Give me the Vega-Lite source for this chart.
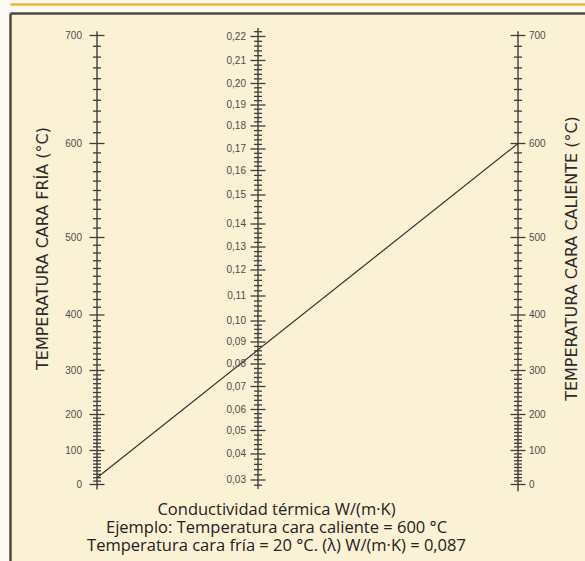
{
  "$schema": "https://vega.github.io/schema/vega-lite/v6.json",
  "width": 575,
  "height": 548,
  "autosize": {"type": "none"},
  "padding": {"left": 10, "top": 13, "right": 0, "bottom": 0},
  "background": "#fcf9f0",
  "config": {
    "view": {"fill": "#fbf1d5", "stroke": null},
    "locale": {"number": {"decimal": ",", "thousands": ".", "grouping": [3], "currency": ["", " €"]}}
  },
  "datasets": {
    "temp": [
      {"t":0,"k":"M"},{"t":10,"k":"m"},{"t":20,"k":"m"},{"t":30,"k":"m"},{"t":40,"k":"m"},{"t":50,"k":"m"},{"t":60,"k":"m"},{"t":70,"k":"m"},{"t":80,"k":"m"},{"t":90,"k":"m"},
      {"t":100,"k":"M"},{"t":110,"k":"m"},{"t":120,"k":"m"},{"t":130,"k":"m"},{"t":140,"k":"m"},{"t":150,"k":"m"},{"t":160,"k":"m"},{"t":170,"k":"m"},{"t":180,"k":"m"},{"t":190,"k":"m"},
      {"t":200,"k":"M"},{"t":210,"k":"m"},{"t":220,"k":"m"},{"t":230,"k":"m"},{"t":240,"k":"m"},{"t":250,"k":"m"},{"t":260,"k":"m"},{"t":270,"k":"m"},{"t":280,"k":"m"},{"t":290,"k":"m"},
      {"t":300,"k":"M"},{"t":310,"k":"m"},{"t":320,"k":"m"},{"t":330,"k":"m"},{"t":340,"k":"m"},{"t":350,"k":"m"},{"t":360,"k":"m"},{"t":370,"k":"m"},{"t":380,"k":"m"},{"t":390,"k":"m"},
      {"t":400,"k":"M"},{"t":410,"k":"m"},{"t":420,"k":"m"},{"t":430,"k":"m"},{"t":440,"k":"m"},{"t":450,"k":"m"},{"t":460,"k":"m"},{"t":470,"k":"m"},{"t":480,"k":"m"},{"t":490,"k":"m"},
      {"t":500,"k":"M"},{"t":510,"k":"m"},{"t":520,"k":"m"},{"t":530,"k":"m"},{"t":540,"k":"m"},{"t":550,"k":"m"},{"t":560,"k":"m"},{"t":570,"k":"m"},{"t":580,"k":"m"},{"t":590,"k":"m"},
      {"t":600,"k":"M"},{"t":610,"k":"m"},{"t":620,"k":"m"},{"t":630,"k":"m"},{"t":640,"k":"m"},{"t":650,"k":"m"},{"t":660,"k":"m"},{"t":670,"k":"m"},{"t":680,"k":"m"},{"t":690,"k":"m"},
      {"t":700,"k":"M"}
    ],
    "cond": [
      {"c":0.028,"k":"m"},
      {"c":0.03,"k":"M"},{"c":0.032,"k":"m"},{"c":0.034,"k":"m"},{"c":0.036,"k":"m"},{"c":0.038,"k":"m"},
      {"c":0.04,"k":"M"},{"c":0.042,"k":"m"},{"c":0.044,"k":"m"},{"c":0.046,"k":"m"},{"c":0.048,"k":"m"},
      {"c":0.05,"k":"M"},{"c":0.052,"k":"m"},{"c":0.054,"k":"m"},{"c":0.056,"k":"m"},{"c":0.058,"k":"m"},
      {"c":0.06,"k":"M"},{"c":0.062,"k":"m"},{"c":0.064,"k":"m"},{"c":0.066,"k":"m"},{"c":0.068,"k":"m"},
      {"c":0.07,"k":"M"},{"c":0.072,"k":"m"},{"c":0.074,"k":"m"},{"c":0.076,"k":"m"},{"c":0.078,"k":"m"},
      {"c":0.08,"k":"M"},{"c":0.082,"k":"m"},{"c":0.084,"k":"m"},{"c":0.086,"k":"m"},{"c":0.088,"k":"m"},
      {"c":0.09,"k":"M"},{"c":0.092,"k":"m"},{"c":0.094,"k":"m"},{"c":0.096,"k":"m"},{"c":0.098,"k":"m"},
      {"c":0.1,"k":"M"},{"c":0.102,"k":"m"},{"c":0.104,"k":"m"},{"c":0.106,"k":"m"},{"c":0.108,"k":"m"},
      {"c":0.11,"k":"M"},{"c":0.112,"k":"m"},{"c":0.114,"k":"m"},{"c":0.116,"k":"m"},{"c":0.118,"k":"m"},
      {"c":0.12,"k":"M"},{"c":0.122,"k":"m"},{"c":0.124,"k":"m"},{"c":0.126,"k":"m"},{"c":0.128,"k":"m"},
      {"c":0.13,"k":"M"},{"c":0.132,"k":"m"},{"c":0.134,"k":"m"},{"c":0.136,"k":"m"},{"c":0.138,"k":"m"},
      {"c":0.14,"k":"M"},{"c":0.142,"k":"m"},{"c":0.144,"k":"m"},{"c":0.146,"k":"m"},{"c":0.148,"k":"m"},
      {"c":0.15,"k":"M"},{"c":0.152,"k":"m"},{"c":0.154,"k":"m"},{"c":0.156,"k":"m"},{"c":0.158,"k":"m"},
      {"c":0.16,"k":"M"},{"c":0.162,"k":"m"},{"c":0.164,"k":"m"},{"c":0.166,"k":"m"},{"c":0.168,"k":"m"},
      {"c":0.17,"k":"M"},{"c":0.172,"k":"m"},{"c":0.174,"k":"m"},{"c":0.176,"k":"m"},{"c":0.178,"k":"m"},
      {"c":0.18,"k":"M"},{"c":0.182,"k":"m"},{"c":0.184,"k":"m"},{"c":0.186,"k":"m"},{"c":0.188,"k":"m"},
      {"c":0.19,"k":"M"},{"c":0.192,"k":"m"},{"c":0.194,"k":"m"},{"c":0.196,"k":"m"},{"c":0.198,"k":"m"},
      {"c":0.2,"k":"M"},{"c":0.202,"k":"m"},{"c":0.204,"k":"m"},{"c":0.206,"k":"m"},{"c":0.208,"k":"m"},
      {"c":0.21,"k":"M"},{"c":0.212,"k":"m"},{"c":0.214,"k":"m"},{"c":0.216,"k":"m"},{"c":0.218,"k":"m"},
      {"c":0.22,"k":"M"},{"c":0.222,"k":"m"}
    ],
    "ejes": [{"e":0,"a":-15,"b":704},{"e":2,"a":-20,"b":704}],
    "ejemplo": [{"e":0,"t":20},{"e":2,"t":600}],
    "ejecond": [{"a":0.0265,"b":0.2235}]
  },
  "resolve": {"scale": {"y": "independent"}, "axis": {"x": "independent", "y": "independent"}},
  "layer": [
    {
      "data": {"name": "temp"},
      "mark": {"type": "tick", "orient": "horizontal", "thickness": 1.3, "color": "#3d3d3d", "opacity": 1},
      "encoding": {
        "x": {"datum": 0, "type": "quantitative", "scale": {"domain": [-0.54037,0,1,2,2.25769], "range": [0,87,248,508,575], "nice": false, "zero": false},
              "axis": {"orient": "top", "domain": true, "domainColor": "#4a4a4a", "domainWidth": 2.5, "ticks": false, "labels": false, "grid": false, "title": null}},
        "y": {"field": "t", "type": "quantitative", "scale": {"domain": [-225,0,100,200,300,400,500,600,700,720.83], "range": [548,471.5,437.5,401.5,357.5,302,224.5,130.5,22.5,0], "nice": false, "zero": false},
              "axis": {"orient": "left", "domain": true, "domainColor": "#4a4a4a", "domainWidth": 2.5, "ticks": false, "labels": false, "grid": false,
                       "title": "TEMPERATURA CARA FRÍA (°C)", "titleX": 32, "titleY": 235, "titleAngle": 270, "titleAlign": "center", "titleBaseline": "middle",
                       "titleFont": "DejaVu Sans", "titleFontSize": 16, "titleFontWeight": "normal", "titleColor": "#2b2b2b"}},
        "size": {"field": "k", "type": "ordinal", "scale": {"domain": ["M","m"], "range": [15,8]}, "legend": null}
      }
    },
    {
      "data": {"name": "temp"},
      "mark": {"type": "tick", "orient": "horizontal", "thickness": 1.3, "color": "#3d3d3d", "opacity": 1},
      "encoding": {
        "x": {"datum": 2, "type": "quantitative", "scale": {"domain": [-0.54037,0,1,2,2.25769], "range": [0,87,248,508,575], "nice": false, "zero": false},
              "axis": {"orient": "top", "offset": 9, "domain": true, "domainColor": "#f2b23a", "domainWidth": 2.5, "ticks": false, "labels": false, "grid": false, "title": null}},
        "y": {"field": "t", "type": "quantitative", "scale": {"domain": [-225,0,100,200,300,400,500,600,700,720.83], "range": [548,471.5,437.5,401.5,357.5,302,224.5,130.5,22.5,0], "nice": false, "zero": false},
              "axis": {"orient": "right", "domain": false, "ticks": false, "labels": false, "grid": false,
                       "title": "TEMPERATURA CARA CALIENTE (°C)", "titleX": -14, "titleY": 245, "titleAngle": 270, "titleAlign": "center", "titleBaseline": "middle",
                       "titleFont": "DejaVu Sans", "titleFontSize": 16, "titleFontWeight": "normal", "titleColor": "#2b2b2b"}},
        "size": {"field": "k", "type": "ordinal", "scale": {"domain": ["M","m"], "range": [15,8]}, "legend": null}
      }
    },
    {
      "data": {"name": "ejes"},
      "mark": {"type": "rule", "color": "#3d3d3d", "strokeWidth": 1.4},
      "encoding": {
        "x": {"field": "e", "type": "quantitative", "scale": {"domain": [-0.54037,0,1,2,2.25769], "range": [0,87,248,508,575], "nice": false, "zero": false},
              "axis": {"orient": "bottom", "domain": false, "ticks": false, "labels": false, "grid": false,
                       "title": ["Conductividad térmica W/(m·K)", "Ejemplo: Temperatura cara caliente = 600 °C", "Temperatura cara fría = 20 °C. (λ) W/(m·K) = 0,087"],
                       "titleX": 266, "titleY": -60, "titleAlign": "center", "titleBaseline": "top", "titleLineHeight": 18,
                       "titleFont": "Open Sans", "titleFontSize": 16.5, "titleFontWeight": "normal", "titleColor": "#222222"}},
        "y": {"field": "a", "type": "quantitative", "scale": {"domain": [-225,0,100,200,300,400,500,600,700,720.83], "range": [548,471.5,437.5,401.5,357.5,302,224.5,130.5,22.5,0], "nice": false, "zero": false}, "axis": null},
        "y2": {"field": "b"}
      }
    },
    {
      "data": {"name": "temp"},
      "transform": [{"filter": "datum.k == 'M'"}],
      "mark": {"type": "text", "align": "right", "baseline": "middle", "dx": -15, "font": "Liberation Sans", "fontSize": 10, "color": "#4d4d4d"},
      "encoding": {
        "x": {"datum": 0, "type": "quantitative", "scale": {"domain": [-0.54037,0,1,2,2.25769], "range": [0,87,248,508,575], "nice": false, "zero": false}, "axis": null},
        "y": {"field": "t", "type": "quantitative", "scale": {"domain": [-225,0,100,200,300,400,500,600,700,720.83], "range": [548,471.5,437.5,401.5,357.5,302,224.5,130.5,22.5,0], "nice": false, "zero": false}, "axis": null},
        "text": {"field": "t", "type": "quantitative", "format": "d"}
      }
    },
    {
      "data": {"name": "temp"},
      "transform": [{"filter": "datum.k == 'M'"}],
      "mark": {"type": "text", "align": "left", "baseline": "middle", "dx": 11, "font": "Liberation Sans", "fontSize": 10, "color": "#4d4d4d"},
      "encoding": {
        "x": {"datum": 2, "type": "quantitative", "scale": {"domain": [-0.54037,0,1,2,2.25769], "range": [0,87,248,508,575], "nice": false, "zero": false}, "axis": null},
        "y": {"field": "t", "type": "quantitative", "scale": {"domain": [-225,0,100,200,300,400,500,600,700,720.83], "range": [548,471.5,437.5,401.5,357.5,302,224.5,130.5,22.5,0], "nice": false, "zero": false}, "axis": null},
        "text": {"field": "t", "type": "quantitative", "format": "d"}
      }
    },
    {
      "data": {"name": "ejemplo"},
      "mark": {"type": "line", "color": "#333333", "strokeWidth": 1.2},
      "encoding": {
        "x": {"field": "e", "type": "quantitative", "scale": {"domain": [-0.54037,0,1,2,2.25769], "range": [0,87,248,508,575], "nice": false, "zero": false}, "axis": null},
        "y": {"field": "t", "type": "quantitative", "scale": {"domain": [-225,0,100,200,300,400,500,600,700,720.83], "range": [548,471.5,437.5,401.5,357.5,302,224.5,130.5,22.5,0], "nice": false, "zero": false}, "axis": null}
      }
    },
    {
      "data": {"name": "cond"},
      "mark": {"type": "tick", "orient": "horizontal", "thickness": 1.3, "color": "#3d3d3d", "opacity": 1},
      "encoding": {
        "x": {"datum": 1, "type": "quantitative", "scale": {"domain": [-0.54037,0,1,2,2.25769], "range": [0,87,248,508,575], "nice": false, "zero": false}, "axis": null},
        "y": {"field": "c", "type": "quantitative", "scale": {"domain": [0.03,0.04,0.05,0.06,0.07,0.08,0.09,0.1,0.11,0.12,0.13,0.14,0.15,0.16,0.17,0.18,0.19,0.2,0.21,0.22], "range": [467,441,417.5,396.5,373.5,351,329,308,283,257,234,211,182,157.5,136,113,92,70.5,47.5,23.5], "nice": false, "zero": false}, "axis": null},
        "size": {"field": "k", "type": "ordinal", "scale": {"domain": ["M","m"], "range": [15,8]}, "legend": null}
      }
    },
    {
      "data": {"name": "ejecond"},
      "mark": {"type": "rule", "color": "#3d3d3d", "strokeWidth": 1.4},
      "encoding": {
        "x": {"datum": 1, "type": "quantitative", "scale": {"domain": [-0.54037,0,1,2,2.25769], "range": [0,87,248,508,575], "nice": false, "zero": false}, "axis": null},
        "y": {"field": "a", "type": "quantitative", "scale": {"domain": [0.03,0.04,0.05,0.06,0.07,0.08,0.09,0.1,0.11,0.12,0.13,0.14,0.15,0.16,0.17,0.18,0.19,0.2,0.21,0.22], "range": [467,441,417.5,396.5,373.5,351,329,308,283,257,234,211,182,157.5,136,113,92,70.5,47.5,23.5], "nice": false, "zero": false}, "axis": null},
        "y2": {"field": "b"}
      }
    },
    {
      "data": {"name": "cond"},
      "transform": [{"filter": "datum.k == 'M'"}],
      "mark": {"type": "text", "align": "right", "baseline": "middle", "dx": -12, "font": "Liberation Sans", "fontSize": 10, "color": "#4d4d4d"},
      "encoding": {
        "x": {"datum": 1, "type": "quantitative", "scale": {"domain": [-0.54037,0,1,2,2.25769], "range": [0,87,248,508,575], "nice": false, "zero": false}, "axis": null},
        "y": {"field": "c", "type": "quantitative", "scale": {"domain": [0.03,0.04,0.05,0.06,0.07,0.08,0.09,0.1,0.11,0.12,0.13,0.14,0.15,0.16,0.17,0.18,0.19,0.2,0.21,0.22], "range": [467,441,417.5,396.5,373.5,351,329,308,283,257,234,211,182,157.5,136,113,92,70.5,47.5,23.5], "nice": false, "zero": false}, "axis": null},
        "text": {"field": "c", "type": "quantitative", "format": ".2f"}
      }
    }
  ]
}
